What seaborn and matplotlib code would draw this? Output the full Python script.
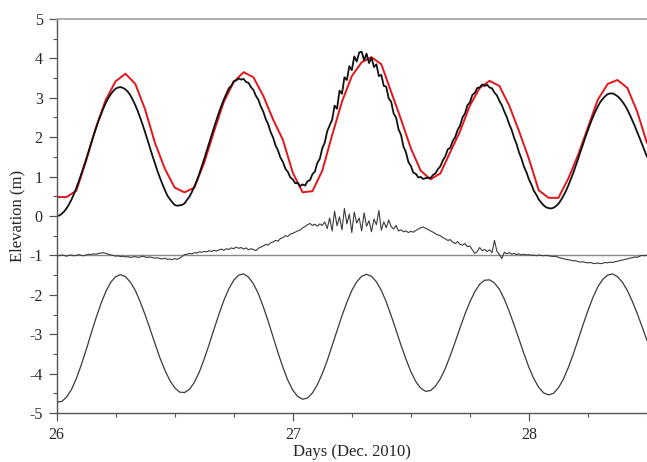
import numpy as np
import pandas as pd
import matplotlib
matplotlib.use("Agg")
import matplotlib.pyplot as plt
import seaborn as sns
from matplotlib.ticker import MultipleLocator

# ---------------- data ----------------
# observed water level, 15-min samples from 26.0 (days, Dec. 2010)
observed = [
    0.00, 0.01, 0.05, 0.11, 0.19, 0.29, 0.41, 0.55, 0.71, 0.88,
    1.06, 1.25, 1.44, 1.64, 1.84, 2.04, 2.22, 2.41, 2.57, 2.73,
    2.87, 2.99, 3.09, 3.17, 3.23, 3.26,
    3.27, 3.25, 3.21, 3.15, 3.06, 2.94, 2.81, 2.66, 2.49, 2.31,
    2.12, 1.92, 1.72, 1.52, 1.33, 1.14, 0.97, 0.81, 0.66, 0.52,
    0.43, 0.35, 0.28, 0.26,
    0.27, 0.28, 0.32, 0.41, 0.49, 0.61, 0.75, 0.90, 1.07, 1.26,
    1.45, 1.65, 1.85, 2.05, 2.25, 2.44, 2.63, 2.80, 2.96, 3.10,
    3.24, 3.30, 3.42, 3.44, 3.49,
    3.46, 3.48, 3.40, 3.38, 3.27, 3.20, 3.05, 2.95, 2.78, 2.65,
    2.46, 2.33, 2.13, 1.99, 1.79, 1.66, 1.48, 1.37, 1.20, 1.12,
    0.98, 0.93, 0.83, 0.84, 0.76,
    0.80, 0.77, 0.88, 0.91, 1.06, 1.13, 1.35, 1.45, 1.72, 1.86,
    2.15, 2.30, 2.44, 2.80, 2.72, 3.18, 3.10, 3.52, 3.45, 3.80,
    3.70, 4.05, 3.92, 4.15,
    4.17, 3.95, 4.12, 3.88, 4.02, 3.78, 3.85, 3.55, 3.58, 3.30,
    3.28, 2.98, 2.90, 2.60, 2.50, 2.20, 2.06, 1.76, 1.62, 1.37,
    1.27, 1.10, 1.07, 0.98, 0.99, 0.94, 0.96,
    0.97, 0.96, 1.04, 1.08, 1.19, 1.26, 1.41, 1.51, 1.69, 1.73,
    1.90, 2.00, 2.18, 2.29, 2.50, 2.60, 2.81, 2.88, 3.07, 3.12,
    3.25, 3.26, 3.34,
    3.30, 3.33, 3.26, 3.24, 3.13, 3.06, 2.92, 2.81, 2.65, 2.51,
    2.33, 2.18, 1.98, 1.82, 1.61, 1.45, 1.25, 1.11, 0.93, 0.80,
    0.64, 0.54, 0.42, 0.34, 0.27, 0.22, 0.20,
    0.19, 0.21, 0.25, 0.31, 0.40, 0.51, 0.63, 0.77, 0.93, 1.09,
    1.27, 1.45, 1.64, 1.82, 2.01, 2.18, 2.35, 2.51, 2.65, 2.78,
    2.89, 2.97, 3.04, 3.09, 3.11,
    3.11, 3.08, 3.04, 2.98, 2.90, 2.81, 2.70, 2.57, 2.43, 2.29,
    2.13, 1.98, 1.82, 1.66, 1.50,
]

# modelled water level, hourly from 26.0
modelled = [
    0.48, 0.48, 0.64, 1.40, 2.25, 2.95, 3.42, 3.61, 3.35, 2.70,
    1.85, 1.20, 0.72, 0.60, 0.72, 1.35, 2.15, 2.90, 3.40, 3.65,
    3.52, 3.05, 2.45, 1.93, 1.10, 0.60, 0.63, 1.15, 2.05, 2.90,
    3.55, 3.90, 4.03, 3.85, 3.15, 2.45, 1.72, 1.15, 0.93, 1.08,
    1.62, 2.15, 2.80, 3.25, 3.43, 3.30, 2.80, 2.15, 1.45, 0.65,
    0.46, 0.46, 0.95, 1.55, 2.25, 2.95, 3.35, 3.45, 3.25, 2.65,
    1.85,
]

# residual (offset by -1 m), 15-min samples from 26.0
residual = [
    -1.00, -1.01, -0.99, -1.00, -1.02, -1.00, -0.99, -1.01, -1.00, -0.98,
    -1.00, -1.01, -0.99, -0.97, -0.98, -0.96, -0.97, -0.95, -0.94, -0.93,
    -0.95, -0.97, -0.99, -1.00, -1.02, -1.01, -1.03, -1.02, -1.04, -1.03,
    -1.05, -1.04, -1.03, -1.05, -1.04, -1.02, -1.04, -1.05, -1.04, -1.06,
    -1.07, -1.06, -1.08, -1.09, -1.07, -1.10, -1.09, -1.11, -1.08, -1.10,
    -1.07, -1.03, -0.98, -0.97, -0.95, -0.96, -0.93, -0.94, -0.91, -0.92,
    -0.90, -0.91, -0.88, -0.90, -0.87, -0.89, -0.86, -0.84, -0.87, -0.83,
    -0.85, -0.81, -0.83, -0.79, -0.82, -0.80, -0.84, -0.81, -0.86, -0.83,
    -0.85, -0.88, -0.82, -0.79, -0.76, -0.72, -0.74, -0.68, -0.66, -0.62,
    -0.64, -0.57, -0.55, -0.50, -0.52, -0.46, -0.44, -0.41, -0.38, -0.36,
    -0.30, -0.27, -0.22, -0.19, -0.24, -0.21, -0.26, -0.20, -0.24, -0.15,
    -0.32, -0.05, -0.38, 0.12, -0.25, -0.02, -0.35, 0.19, -0.20, 0.05,
    -0.42, 0.10, -0.18, -0.05, -0.38, 0.08, -0.26, -0.12, -0.40, -0.08,
    -0.22, 0.14, -0.36, -0.15, -0.30, -0.10, -0.27, -0.33, -0.24, -0.38,
    -0.35, -0.40, -0.38, -0.42, -0.39, -0.41, -0.37, -0.33, -0.30, -0.28,
    -0.31, -0.34, -0.38, -0.41, -0.45, -0.48, -0.50, -0.55, -0.58, -0.62,
    -0.60, -0.66, -0.70, -0.65, -0.72, -0.74, -0.70, -0.78, -0.76, -0.86,
    -0.95, -0.90, -0.80, -0.88, -0.85, -0.90, -0.86, -0.93, -0.62, -0.90,
    -0.98, -1.08, -0.92, -0.96, -0.93, -0.97, -0.95, -0.98, -0.96, -0.99,
    -0.97, -0.99, -0.98, -1.00, -0.99, -1.01, -0.99, -1.00, -1.01, -1.00,
    -1.01, -1.02, -1.03, -1.02, -1.05, -1.07, -1.08, -1.10, -1.11, -1.12,
    -1.14, -1.13, -1.16, -1.17, -1.16, -1.18, -1.19, -1.18, -1.20, -1.21,
    -1.19, -1.21, -1.20, -1.18, -1.19, -1.17, -1.18, -1.16, -1.15, -1.13,
    -1.12, -1.10, -1.09, -1.07, -1.06, -1.04, -1.05, -1.02, -1.00, -1.01,
    -0.99,
]

# astronomical tide (offset by -3 m), 30-min samples from 26.0
tide = [
    -4.72, -4.71, -4.60, -4.41, -4.13, -3.78, -3.40, -2.99, -2.59, -2.23,
    -1.92, -1.68, -1.54,
    -1.49, -1.54, -1.68, -1.89, -2.18, -2.51, -2.87, -3.24, -3.60, -3.91,
    -4.17, -4.36, -4.47,
    -4.48, -4.40, -4.22, -3.96, -3.63, -3.26, -2.87, -2.49, -2.14, -1.85,
    -1.63, -1.50,
    -1.47, -1.55, -1.72, -1.97, -2.30, -2.67, -3.07, -3.47, -3.84, -4.17,
    -4.42, -4.58, -4.65,
    -4.62, -4.49, -4.28, -4.00, -3.67, -3.29, -2.91, -2.53, -2.19, -1.89,
    -1.67, -1.53, -1.48,
    -1.53, -1.67, -1.89, -2.18, -2.53, -2.90, -3.28, -3.63, -3.95, -4.20,
    -4.37, -4.45,
    -4.43, -4.32, -4.13, -3.87, -3.55, -3.20, -2.84, -2.49, -2.18, -1.92,
    -1.73, -1.63,
    -1.62, -1.70, -1.86, -2.11, -2.42, -2.77, -3.13, -3.50, -3.84, -4.13,
    -4.35, -4.49, -4.54,
    -4.50, -4.36, -4.14, -3.85, -3.51, -3.14, -2.76, -2.40, -2.07, -1.80,
    -1.61, -1.50,
    -1.47, -1.54, -1.68, -1.89, -2.16, -2.47, -2.81, -3.16,
]

start_day = 26.0
x_ticks = [26, 27, 28]
y_ticks = [-5, -4, -3, -2, -1, 0, 1, 2, 3, 4, 5]
x_label = "Days (Dec. 2010)"
y_label = "Elevation (m)"

# ---------------- tables ----------------
df_obs = pd.DataFrame({"day": start_day + np.arange(len(observed)) / 96.0, "val": observed})
df_mod = pd.DataFrame({"day": start_day + np.arange(len(modelled)) / 24.0, "val": modelled})
df_res = pd.DataFrame({"day": start_day + np.arange(len(residual)) / 96.0, "val": residual})
df_tide = pd.DataFrame({"day": start_day + np.arange(len(tide)) / 48.0, "val": tide})

# ---------------- style ----------------
sns.set_style("ticks")
plt.rcParams["font.family"] = ["Liberation Serif", "DejaVu Serif"]
plt.rcParams["axes.linewidth"] = 1.0
plt.rcParams["axes.unicode_minus"] = False

fig = plt.figure(figsize=(6.47, 4.62), dpi=100)
ax = fig.add_axes([0.0875, 0.106, 0.9125, 0.853])

ax.axhline(-1, color="#8a8a8a", lw=1.0, zorder=1)

sns.lineplot(data=df_tide, x="day", y="val", ax=ax, color="#3a3a3a", lw=0.9, sort=False)
sns.lineplot(data=df_res, x="day", y="val", ax=ax, color="#3a3a3a", lw=0.8, sort=False)
sns.lineplot(data=df_mod, x="day", y="val", ax=ax, color="#e3161c", lw=1.4, sort=False)
sns.lineplot(data=df_obs, x="day", y="val", ax=ax, color="#111111", lw=1.3, sort=False)

ax.set_xlim(26, 28.5)
ax.set_ylim(-5, 5)
ax.set_xticks(x_ticks)
ax.set_yticks(y_ticks)
ax.xaxis.set_minor_locator(MultipleLocator(0.25))
ax.yaxis.set_minor_locator(MultipleLocator(0.5))

ax.tick_params(axis="both", which="major", direction="out", length=6, width=0.9,
               color="#555555", labelsize=11.5, pad=4)
ax.tick_params(axis="both", which="minor", direction="out", length=3, width=0.8,
               color="#555555")
ax.tick_params(top=False, right=False, which="both")

for side in ("left", "bottom"):
    ax.spines[side].set_color("#555555")
ax.spines["top"].set_color("#a8a8a8")
ax.spines["top"].set_linewidth(1.3)
ax.spines["right"].set_visible(False)

ax.set_xlabel(x_label, fontsize=12, labelpad=1)
ax.set_ylabel(y_label, fontsize=12, labelpad=3)

fig.savefig("out.png", dpi=100)
